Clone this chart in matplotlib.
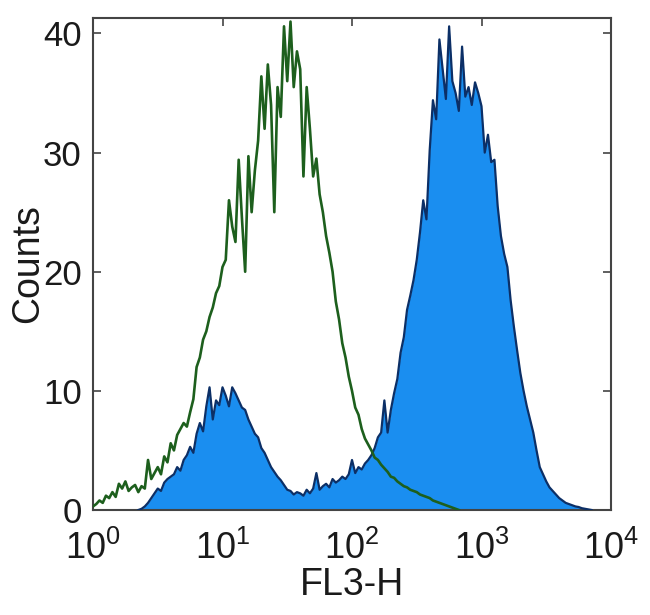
import numpy as np
import matplotlib
matplotlib.use("Agg")
import matplotlib.pyplot as plt

plt.rcParams['font.family'] = ['Liberation Sans', 'DejaVu Sans']
plt.rcParams['mathtext.fontset'] = 'custom'
plt.rcParams['mathtext.rm'] = 'Liberation Sans'
plt.rcParams['mathtext.it'] = 'Liberation Sans'
plt.rcParams['mathtext.bf'] = 'Liberation Sans:bold'

# channel binning (log10 of FL3-H), 40 bins per decade
bin_step = 0.025
green_start = 0.0
blue_start = 0.35

# isotype control (green outline)
green_counts = [
    0.3, 0.5, 0.8, 0.6, 1.2, 1.0, 1.5, 1.1, 2.2, 1.8,
    2.4, 1.6, 1.9, 2.1, 1.5, 2.0, 1.8, 4.2, 2.6, 3.1,
    3.6, 3.0, 4.5, 4.0, 5.6, 5.0, 6.3, 6.8, 7.3, 7.0,
    8.2, 9.3, 12.0, 12.8, 14.3, 15.0, 16.2, 17.0, 18.2, 18.8,
    20.4, 21.0, 26.0, 23.8, 22.5, 29.4, 24.5, 20.0, 29.7, 25.0,
    28.5, 31.0, 36.4, 32.0, 37.4, 34.0, 25.0, 35.5, 33.0, 40.6,
    36.0, 41.0, 35.5, 38.5, 37.0, 28.0, 35.5, 32.0, 28.0, 29.5,
    26.5, 25.0, 23.0, 21.6, 20.0, 17.5, 16.0, 14.0, 12.8, 11.2,
    10.0, 8.6, 8.0, 6.8, 6.0, 5.5, 5.0, 4.4, 4.2, 3.8,
    3.5, 3.2, 2.8, 2.7, 2.4, 2.2, 2.0, 1.9, 1.7, 1.6,
    1.5, 1.3, 1.2, 1.1, 1.0, 0.8, 0.7, 0.6, 0.5, 0.4,
    0.3, 0.2, 0.1, 0.0,
]

# stained sample (blue filled)
blue_counts = [
    0.0, 0.1, 0.3, 0.6, 1.0, 1.4, 1.8, 1.6, 2.3, 2.6,
    2.8, 3.0, 3.6, 3.3, 4.2, 4.6, 5.3, 4.8, 6.4, 7.3,
    6.6, 8.7, 10.3, 7.6, 9.2, 8.8, 10.3, 9.6, 8.7, 10.3,
    9.8, 9.2, 8.6, 8.4, 7.6, 7.0, 6.4, 6.1, 5.2, 4.8,
    4.2, 3.6, 3.2, 2.8, 2.5, 2.1, 1.7, 1.6, 1.3, 1.5,
    1.4, 1.2, 1.7, 1.4, 1.8, 3.1, 1.7, 2.0, 2.2, 1.9,
    2.6, 2.3, 2.5, 2.8, 2.6, 3.0, 4.2, 3.1, 3.6, 3.4,
    3.9, 4.2, 4.6, 5.2, 6.1, 6.5, 9.2, 6.5, 8.4, 9.8,
    11.0, 13.2, 14.5, 16.8, 18.0, 19.3, 21.0, 23.3, 26.0, 24.4,
    30.2, 34.4, 32.8, 39.5, 37.0, 34.5, 40.6, 36.0, 35.0, 33.5,
    38.9, 34.7, 35.5, 34.0, 35.9, 35.0, 33.9, 30.0, 31.5, 29.2,
    29.4, 25.5, 23.0, 21.5, 20.4, 17.6, 15.4, 13.4, 11.5, 10.0,
    8.7, 7.6, 6.5, 5.0, 3.6, 3.0, 2.4, 1.9, 1.6, 1.3,
    1.0, 0.8, 0.6, 0.5, 0.4, 0.3, 0.25, 0.15, 0.1, 0.05,
    0.0,
]

x_ticks = [1, 10, 100, 1000, 10000]
x_tick_labels = [r'$\mathregular{10^{0}}$', r'$\mathregular{10^{1}}$', r'$\mathregular{10^{2}}$',
                 r'$\mathregular{10^{3}}$', r'$\mathregular{10^{4}}$']
y_ticks = [0, 10, 20, 30, 40]
y_tick_labels = ['0', '10', '20', '30', '40']

green_x = 10 ** (green_start + bin_step * np.arange(len(green_counts)))
blue_x = 10 ** (blue_start + bin_step * np.arange(len(blue_counts)))

text_color = '#1a1a1a'

fig = plt.figure(figsize=(6.5, 6.15), dpi=100)
ax = fig.add_axes([93/650, 105/615, 518/650, 492/615])

ax.fill_between(blue_x, blue_counts, 0, color='#1a8ef0', linewidth=0, zorder=2)
ax.plot(blue_x, blue_counts, color='#0c2f66', linewidth=1.6, zorder=3)
ax.plot(green_x, green_counts, color='#1d5f1d', linewidth=1.9, zorder=4)

ax.set_xscale('log')
ax.set_xlim(1, 10000)
ax.set_ylim(0, 41.3)
ax.set_xticks(x_ticks)
ax.set_xticklabels(x_tick_labels, fontsize=26)
ax.minorticks_off()
ax.set_yticks(y_ticks)
ax.set_yticklabels(y_tick_labels, fontsize=25)
ax.tick_params(direction='in', length=6, width=1.2, color='#444444',
               top=True, right=True, labelcolor=text_color)
ax.tick_params(axis='x', pad=15)
ax.tick_params(axis='y', pad=8)
for s in ax.spines.values():
    s.set_color('#444444')
    s.set_linewidth(1.5)

ax.set_xlabel('FL3-H', fontsize=27, color=text_color, labelpad=0)
ax.set_ylabel('Counts', fontsize=27, color=text_color, labelpad=-2)

fig.savefig('out.png', dpi=100)
